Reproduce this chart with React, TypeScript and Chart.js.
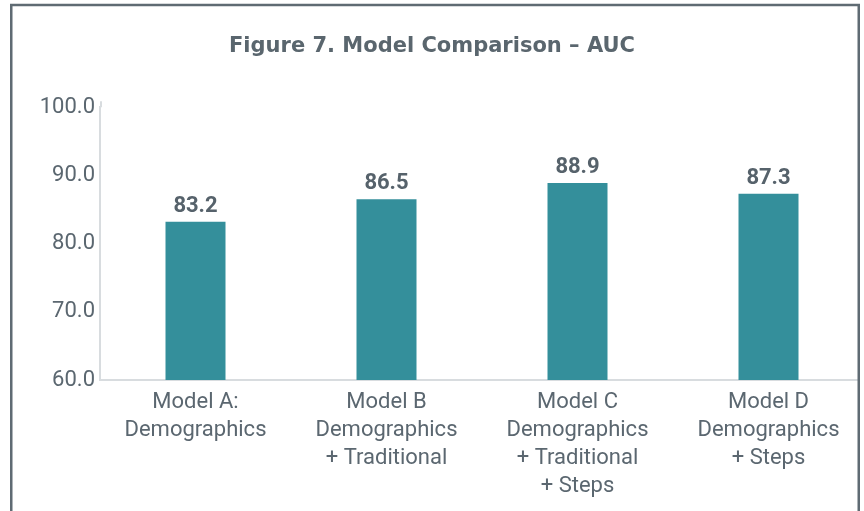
import React, { useEffect, useRef } from "react";
import { Chart, registerables } from "chart.js";

Chart.register(...registerables);

const titleText = "Figure 7. Model Comparison \u2013 AUC";
const categories: string[][] = [
  ["Model A:", "Demographics"],
  ["Model B", "Demographics", "+ Traditional"],
  ["Model C", "Demographics", "+ Traditional", "+ Steps"],
  ["Model D", "Demographics", "+ Steps"],
];
const aucValues = [83.2, 86.5, 88.9, 87.3];
const yMin = 60;
const yMax = 100;
const yStep = 10;

const FONT = "Roboto, 'Liberation Sans', sans-serif";
const TITLE_FONT = "'DejaVu Sans', Roboto, sans-serif";
const TEXT = "#5b6770";
const BAR = "#348f9b";

const decor = {
  id: "decor",
  afterDatasetsDraw(chart: any) {
    const ctx = chart.ctx;
    const meta = chart.getDatasetMeta(0);
    ctx.save();
    ctx.font = `bold 22px ${FONT}`;
    ctx.fillStyle = "#56626b";
    ctx.textAlign = "center";
    ctx.textBaseline = "alphabetic";
    meta.data.forEach((bar: any, i: number) => {
      ctx.fillText(aucValues[i].toFixed(1), bar.x, bar.y - 10);
    });
    ctx.restore();
  },
  afterDraw(chart: any) {
    const ctx = chart.ctx;
    const area = chart.chartArea;
    ctx.save();
    ctx.strokeStyle = "#d8dcdf";
    ctx.lineWidth = 2;
    ctx.beginPath();
    ctx.moveTo(area.left + 1, area.top - 6);
    ctx.lineTo(area.left + 1, area.top);
    ctx.stroke();
    ctx.fillStyle = "#ffffff";
    ctx.fillRect(860, 0, 10, 520);
    ctx.strokeStyle = "#5f6b73";
    ctx.lineWidth = 2.5;
    ctx.beginPath();
    ctx.moveTo(11.25, 530);
    ctx.lineTo(11.25, 5);
    ctx.lineTo(858.75, 5);
    ctx.lineTo(858.75, 530);
    ctx.stroke();
    ctx.restore();
  },
};

export default function App() {
  const ref = useRef<HTMLCanvasElement | null>(null);
  useEffect(() => {
    if (!ref.current) return;
    const chart = new Chart(ref.current, {
      type: "bar",
      data: {
        labels: categories,
        datasets: [
          {
            data: aucValues,
            backgroundColor: BAR,
            barPercentage: 60 / 191,
            categoryPercentage: 1,
          },
        ],
      },
      options: {
        animation: false,
        responsive: false,
        maintainAspectRatio: false,
        layout: { padding: { left: 0, right: 0, top: 0, bottom: 0 } },
        plugins: {
          legend: { display: false },
          tooltip: { enabled: false },
          title: {
            display: true,
            text: titleText,
            color: "#5a666e",
            font: { family: TITLE_FONT, size: 21, weight: "bold" },
            padding: { top: 34, bottom: 48 },
          },
        },
        scales: {
          x: {
            grid: { display: false, drawTicks: false },
            border: { display: true, color: "#d8dcdf", width: 2 },
            ticks: {
              color: TEXT,
              font: { family: FONT, size: 22, lineHeight: 28 / 22 },
              padding: 8,
              maxRotation: 0,
              autoSkip: false,
            },
            afterFit: (s: any) => {
              s.height = 131;
            },
          },
          y: {
            min: yMin,
            max: yMax,
            grid: { display: false, drawTicks: false },
            border: { display: true, color: "#d8dcdf", width: 2 },
            ticks: {
              stepSize: yStep,
              color: TEXT,
              font: { family: FONT, size: 22 },
              padding: 5,
              callback: (v: any) => Number(v).toFixed(1),
            },
            afterFit: (s: any) => {
              s.width = 100;
            },
          },
        },
      },
      plugins: [decor],
    });
    return () => chart.destroy();
  }, []);
  return (
    <div style={{ position: "fixed", left: 0, top: 0, width: 864, height: 511, background: "#fff" }}>
      <canvas ref={ref} width={864} height={511} style={{ display: "block" }} />
    </div>
  );
}
